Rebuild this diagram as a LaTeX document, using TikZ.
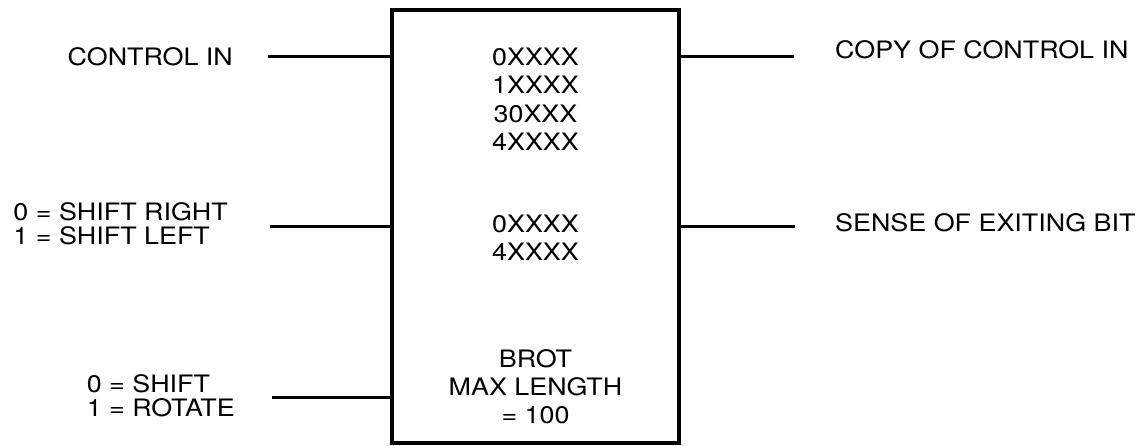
\documentclass[tikz,border=0pt]{standalone}
\usepackage{fontspec}
\setmainfont{TeX Gyre Heros}[FakeStretch=1.12]
\usetikzlibrary{positioning}

\begin{document}
\begin{tikzpicture}[x=1pt, y=-1pt,
    box/.style = {draw, line width=4.5pt, minimum width=287pt, minimum height=433pt, inner sep=0pt, outer sep=0pt},
    lbl/.style = {font=\fontsize{24}{24}\selectfont, inner sep=0pt, align=left},
    code/.style = {font=\fontsize{24}{28.3}\selectfont, inner sep=0pt, align=center},
    wire/.style = {line width=3pt}]
    \useasboundingbox (0,0) rectangle (1147,446);
    \node[box] (brot) at (535.5,226.5) {};
    % texts in the box
    \node[code] (ops) at (535.5,99.2) {0XXXX\\1XXXX\\30XXX\\4XXXX};
    \node[code] (dirops) at (535.5,238) {0XXXX\\4XXXX};
    \node[code] (maxlen) at (535.5,386.7) {BROT\\MAX LENGTH\\= 100};
    % inputs
    \coordinate (ctlin) at (268,57);
    \coordinate (dirin) at (270,227);
    \coordinate (modein) at (272,397);
    \node[lbl, left=35pt of ctlin] (ctltxt) {CONTROL IN};
    \node[lbl, left=42pt of dirin, yshift=3.5pt] (dirtxt) {0 = SHIFT RIGHT\\1 = SHIFT LEFT};
    \node[lbl, left=37pt of modein, yshift=1pt] (modetxt) {0 = SHIFT\\1 = ROTATE};
    \draw[wire] (ctlin) -- (ctlin -| brot.west);
    \draw[wire] (dirin) -- (dirin -| brot.west);
    \draw[wire] (modein) -- (modein -| brot.west);
    % outputs
    \coordinate (ctlout) at (794,57);
    \coordinate (bitout) at (795,227);
    \node[lbl, right=41pt of ctlout, yshift=7pt] (copytxt) {COPY OF CONTROL IN};
    \node[lbl, right=40pt of bitout, yshift=4pt] (sensetxt) {SENSE OF EXITING BIT};
    \draw[wire] (brot.east |- ctlout) -- (ctlout);
    \draw[wire] (brot.east |- bitout) -- (bitout);
\end{tikzpicture}
\end{document}
